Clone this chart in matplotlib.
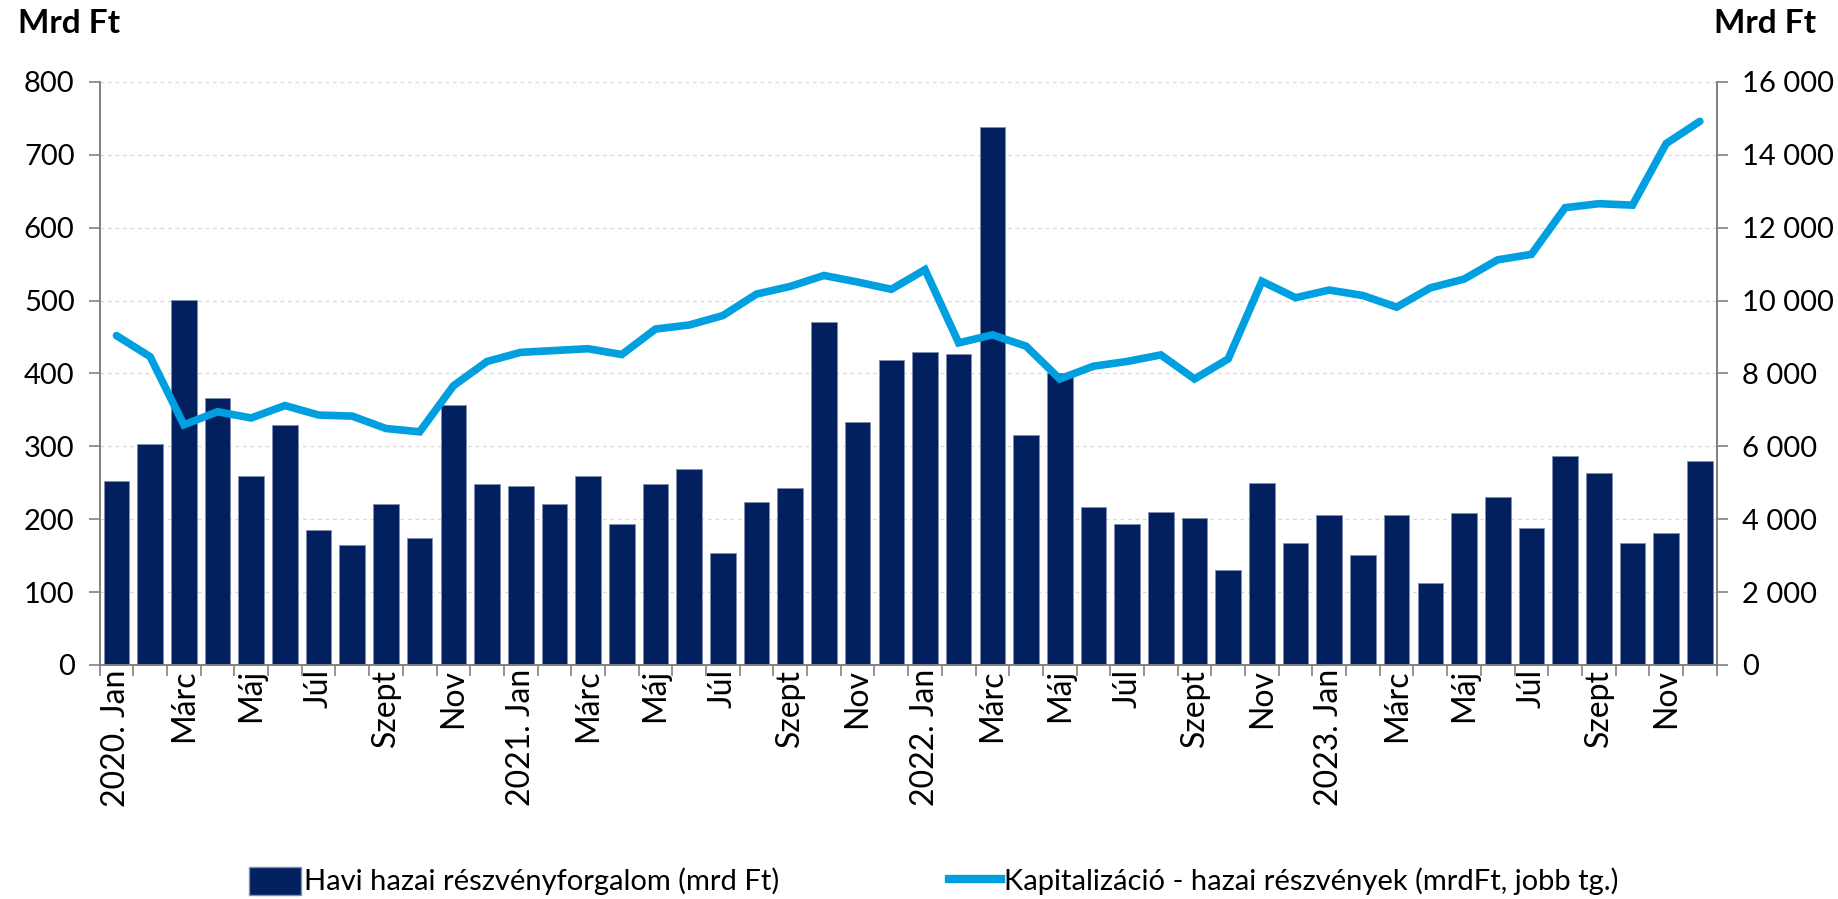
import matplotlib
matplotlib.use('Agg')
import matplotlib.pyplot as plt
import numpy as np
from matplotlib.patches import Patch
from matplotlib.lines import Line2D
from matplotlib.ticker import FuncFormatter, FixedLocator

plt.rcParams['font.family'] = ['Lato', 'DejaVu Sans']

# ── data ─────────────────────────────────────────────
months = ['Jan', 'Febr', 'Márc', 'Ápr', 'Máj', 'Jún', 'Júl', 'Aug', 'Szept', 'Okt', 'Nov', 'Dec']
years = [2020, 2021, 2022, 2023]

# monthly domestic share turnover (bn HUF), left axis
turnover = [253, 303, 501, 366, 259, 329, 185, 164, 221, 174, 357, 249,
            245, 221, 259, 193, 248, 269, 153, 223, 243, 471, 334, 418,
            430, 427, 738, 316, 400, 217, 194, 210, 202, 130, 250, 167,
            206, 151, 206, 113, 208, 231, 188, 287, 264, 168, 181, 280]

# market capitalisation (bn HUF), right axis
capitalisation = [9040, 8460, 6590, 6950, 6780, 7120, 6860, 6830, 6490, 6400, 7660, 8330,
                  8580, 8630, 8680, 8520, 9220, 9330, 9590, 10180, 10390, 10690, 10510, 10310,
                  10850, 8840, 9060, 8750, 7850, 8200, 8330, 8510, 7850, 8400, 10530, 10080,
                  10290, 10140, 9820, 10350, 10590, 11120, 11270, 12550, 12660, 12620, 14310, 14920]

bar_label = 'Havi hazai részvényforgalom (mrd Ft)'
line_label = 'Kapitalizáció - hazai részvények (mrdFt, jobb tg.)'

tick_labels = []
for y in years:
    for i in range(0, 12, 2):
        tick_labels.append(f'{y}. Jan' if i == 0 else months[i])

bar_color = '#02205F'
line_color = '#00A0E0'

# ── plot ─────────────────────────────────────────────
fig = plt.figure(figsize=(18.38, 8.99), dpi=100)
ax = fig.add_axes([0.0542, 0.2603, 0.8798, 0.6485])
ax2 = ax.twinx()

x = np.arange(len(turnover))
ax.bar(x, turnover, width=0.76, color=bar_color, edgecolor='#8090B0', linewidth=0.6, zorder=2)
ax2.plot(x, capitalisation, color=line_color, linewidth=5.5, solid_joinstyle='miter',
         solid_capstyle='round', zorder=3)

ax.set_xlim(-0.5, len(turnover) - 0.5)
ax.set_ylim(0, 800)
ax2.set_ylim(0, 16000)
ax.set_yticks(np.arange(0, 801, 100))
ax2.set_yticks(np.arange(0, 16001, 2000))
ax2.yaxis.set_major_formatter(FuncFormatter(lambda v, p: f'{v:,.0f}'.replace(',', ' ')))

ax.yaxis.grid(True, color='#D9D9D9', linestyle=(0, (3, 3)), linewidth=0.9, zorder=0)
ax.set_axisbelow(True)

# labels at every other month, tick marks between categories
ax.xaxis.set_major_locator(FixedLocator(x[::2]))
ax.set_xticklabels(tick_labels, rotation=90, fontsize=23)
ax.xaxis.set_minor_locator(FixedLocator(np.arange(-0.5, len(turnover), 1)))
ax.tick_params(axis='x', which='major', length=0, pad=3)
ax.tick_params(axis='x', which='minor', length=8, color='#808080', width=1.2)
ax.tick_params(axis='y', length=8, color='#808080', width=1.2, labelsize=21, pad=10)
ax2.tick_params(axis='y', length=8, color='#808080', width=1.2, labelsize=21, pad=10)

for a in (ax, ax2):
    a.spines['top'].set_visible(False)
    for s in ('left', 'right', 'bottom'):
        a.spines[s].set_color('#808080')
        a.spines[s].set_linewidth(1.2)

fig.text(0.0096, 0.974, 'Mrd Ft', fontsize=24, fontweight='bold', va='center', ha='left')
fig.text(0.9325, 0.974, 'Mrd Ft', fontsize=24, fontweight='bold', va='center', ha='left')

handles = [Patch(facecolor=bar_color, edgecolor='#8090B0'),
           Line2D([0], [0], color=line_color, linewidth=6)]
fig.legend(handles, [bar_label, line_label], loc='center', bbox_to_anchor=(0.508, 0.02),
           ncol=2, frameon=False, columnspacing=5.8, handlelength=1.8, handleheight=1.1,
           handletextpad=0.1, prop={'size': 21})

fig.savefig('out.png', dpi=100)
